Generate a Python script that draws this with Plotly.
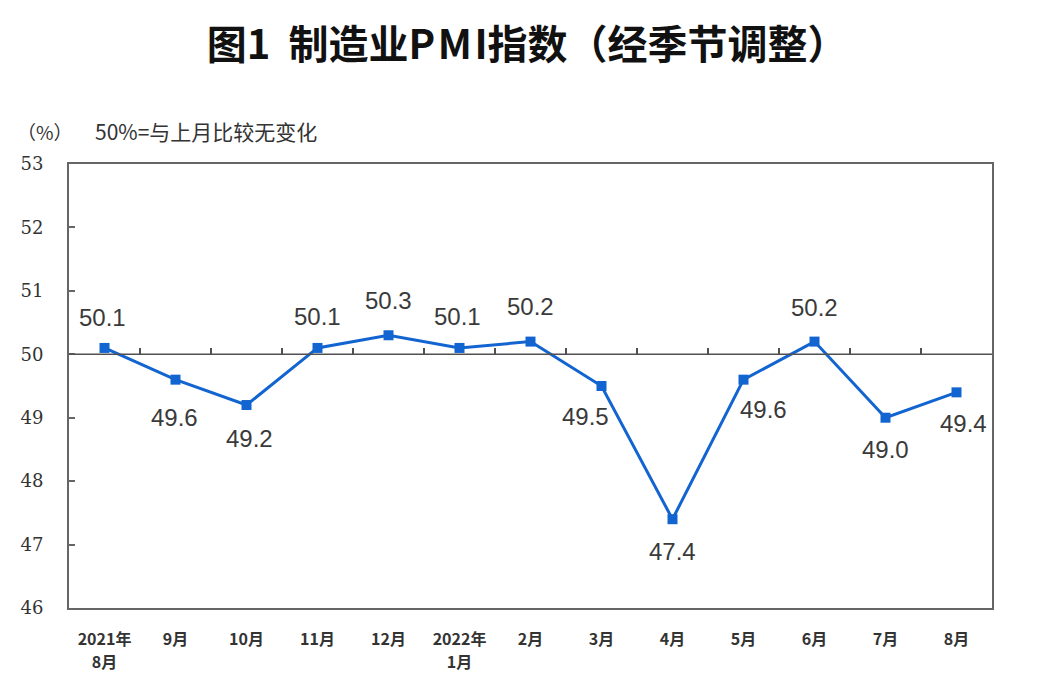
import plotly.graph_objects as go

categories = ["2021年\n8月", "9月", "10月", "11月", "12月", "2022年\n1月", "2月",
              "3月", "4月", "5月", "6月", "7月", "8月"]
pmi = [50.1, 49.6, 49.2, 50.1, 50.3, 50.1, 50.2, 49.5, 47.4, 49.6, 50.2, 49.0, 49.4]
y_ticks = [46, 47, 48, 49, 50, 51, 52, 53]

# label placement per point in pixels (style only)
label_dx = [-2, -1, 3, 0, 0, -2, 0, -16, 0, 20, 0, 0, 7]
label_dy = [30, -38, -33, 31, 35, 31, 35, -30, -32, -30, 34, -32, -31]

idx = list(range(len(categories)))
line1 = [c.split("\n")[0] for c in categories]
line2_idx = [i for i, c in enumerate(categories) if "\n" in c]
line2 = [categories[i].split("\n")[1] for i in line2_idx]

LINE = "#1264d0"
TXT = "#3a3a3a"

fig = go.Figure()
fig.add_trace(go.Scatter(
    x=idx, y=pmi, mode="lines+markers",
    line=dict(color=LINE, width=3),
    marker=dict(symbol="square", size=10, color=LINE),
    hoverinfo="skip", showlegend=False,
))

for i, v, dx, dy in zip(idx, pmi, label_dx, label_dy):
    fig.add_annotation(x=i, y=v, text=f"{v:.1f}", showarrow=False,
                       xshift=dx, yshift=dy,
                       font=dict(family="Liberation Sans, Arial", size=24, color=TXT))

# reference line at 50 with category boundary ticks
fig.add_shape(type="line", xref="paper", x0=0, x1=1, yref="y", y0=50, y1=50,
              line=dict(color="#505050", width=1.5))

xr = [-0.5, len(idx) - 0.5]
fig.add_trace(go.Scatter(x=xr, y=[50, 50], xaxis="x2", mode="lines",
                         line=dict(width=0), hoverinfo="skip", showlegend=False))
fig.add_trace(go.Scatter(x=xr, y=[50, 50], xaxis="x3", mode="lines",
                         line=dict(width=0), hoverinfo="skip", showlegend=False))

tick_font = dict(family="Noto Sans CJK SC", size=16, color="#333333", weight="bold")

fig.update_layout(
    width=1064, height=698,
    margin=dict(l=59, r=80, t=156, b=98),
    paper_bgcolor="white", plot_bgcolor="white",
    title=dict(text="<b>图1\u00a0\u00a0制造业P\u200aM\u200aI指数（经季节调整）</b>",
               x=0.488, xanchor="center", y=0.947, yanchor="middle",
               font=dict(family="Noto Sans CJK SC", size=40, color="#111111")),
    xaxis=dict(
        range=xr, tickmode="array", tickvals=idx, ticktext=line1,
        ticks="", showgrid=False, zeroline=False,
        showline=True, linecolor="#666666", linewidth=2, mirror=True,
        tickfont=tick_font, ticklabelstandoff=16,
    ),
    xaxis2=dict(
        overlaying="x", anchor="free", position=(50 - 46) / 7,
        range=xr, tickmode="array", tickvals=[i + 0.5 for i in idx[:-1]],
        ticks="inside", ticklen=6, tickcolor="#505050", tickwidth=1.5,
        showticklabels=False, showgrid=False, zeroline=False, showline=False,
    ),
    xaxis3=dict(
        overlaying="x", anchor="y", side="bottom",
        range=xr, tickmode="array", tickvals=line2_idx, ticktext=line2,
        ticks="", showgrid=False, zeroline=False, showline=False,
        tickfont=tick_font, ticklabelstandoff=43,
    ),
    yaxis=dict(
        range=[46, 53], tickmode="array", tickvals=y_ticks,
        ticks="inside", ticklen=6, tickcolor="#666666", tickwidth=1.5,
        showgrid=False, zeroline=False,
        showline=True, linecolor="#666666", linewidth=2, mirror=True,
        tickfont=dict(family="DejaVu Serif, Liberation Serif", size=18, color="#333333"),
        ticklabelstandoff=20,
    ),
)

fig.add_annotation(xref="paper", yref="paper", x=-0.058, y=1.074, xanchor="left",
                   yanchor="middle", showarrow=False, text="（%）",
                   font=dict(family="Noto Sans CJK SC", size=19, color="#333333"))
fig.add_annotation(xref="paper", yref="paper", x=0.026, y=1.074, xanchor="left",
                   yanchor="middle", showarrow=False, text="50%=与上月比较无变化",
                   font=dict(family="Noto Sans CJK SC", size=21, color="#333333"))

fig.write_html("out.html")
